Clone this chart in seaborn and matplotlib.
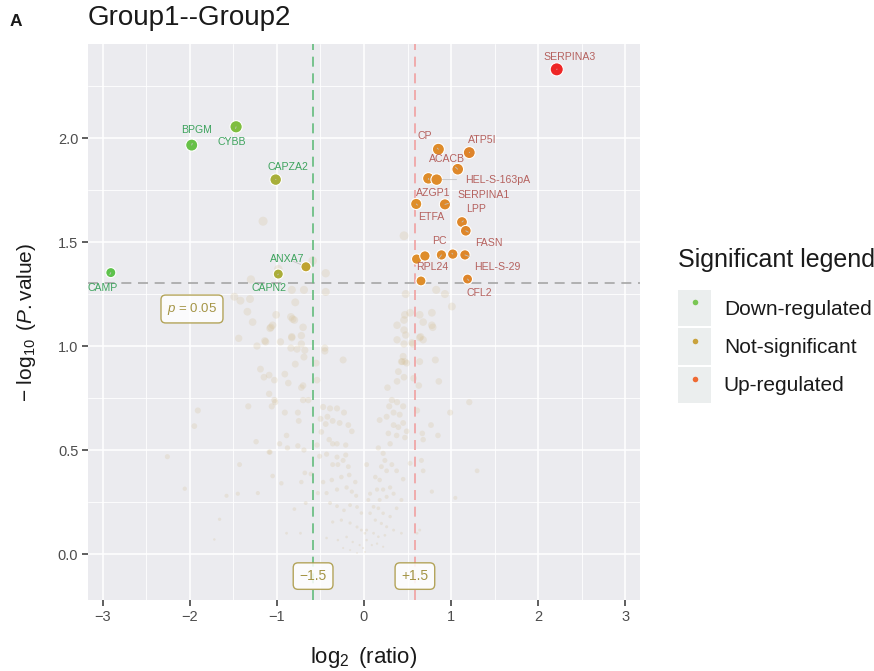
import numpy as np
import pandas as pd
import matplotlib
matplotlib.use('Agg')
import matplotlib.pyplot as plt
import seaborn as sns
from matplotlib.colors import LinearSegmentedColormap
from matplotlib.lines import Line2D
from matplotlib.patches import Rectangle
from matplotlib.ticker import MultipleLocator

# --- highlighted proteins (log2 ratio, -log10 p) ---
genes = ['SERPINA3', 'BPGM', 'CYBB', 'CAPZA2', 'CAMP', 'ANXA7', 'CAPN2',
         'CP', 'ATP5I', 'ACACB', 'AZGP1', 'HEL-S-163pA', 'ETFA', 'SERPINA1',
         'LPP', 'FASN', '', '', 'RPL24', 'PC', 'HEL-S-29', '', 'CFL2']
gene_x = [2.215, -1.98, -1.47, -1.015, -2.91, -0.667, -0.985,
          0.855, 1.21, 1.077, 0.74, 0.835, 0.60, 0.93,
          1.126, 1.17, 0.605, 0.70, 0.89, 1.02, 1.16, 0.655, 1.19]
gene_y = [2.33, 1.966, 2.054, 1.80, 1.353, 1.381, 1.346,
          1.946, 1.93, 1.85, 1.806, 1.80, 1.683, 1.681,
          1.596, 1.554, 1.418, 1.433, 1.438, 1.442, 1.438, 1.313, 1.322]

# --- background (non-highlighted) proteins ---
bg_x = [-0.79, -1.01, -0.84, -0.82, -1.28, -1.07, -1.05, -0.70, -0.83, -1.13,
        -0.96, -0.72, -1.23, -0.84, -0.77, -0.45, -0.69, -0.79, -0.55, -0.24,
        -1.19, -1.09, -1.15, -1.03, -0.91, -0.87, -0.72, -0.70, -0.54, -1.09,
        -1.03, -1.06, -0.70, -0.64, -0.47, -0.39, -0.31, -0.23, -0.91, -0.76,
        -0.42, -0.75, -0.50, -0.44, -0.36, -0.28, -0.18, -0.14, -1.24, -0.97,
        -0.88, -0.76, -0.69, -0.54, -0.49, -0.40, -0.36, -0.31, -0.21, -1.09,
        -0.51, -0.43, -0.31, -0.21, -0.30, -0.24, -0.18, -0.36, -1.05, -0.95,
        -0.72, -0.68, -0.61, -0.47, -0.37, -0.26, -0.17, -0.10, -1.22, -0.53,
        -0.43, -0.31, -0.20, -0.14, -0.09, -0.80, -0.67, -0.39, -0.31, -0.23,
        -0.16, -0.08, -0.03, -0.36, -0.26, -0.16, -0.08, -0.03, 0.01, -0.89,
        -0.73, -0.43, -0.30, -0.20, -0.13, -0.05, -0.01, 0.01, -0.24, -0.16,
        -0.08, -1.91, -1.95, -1.33, -1.02, -1.08, -0.89, -2.26, -1.43, -2.06,
        -1.58, -1.45, -1.66, -1.72, -1.16, -1.30, -1.49, -1.42, -1.31, -0.83,
        -0.69, -0.59, -0.44, -0.44, -1.34, -1.44, -1.14, -0.80, -1.08, -0.83,
        -0.72, -0.68, -0.45, -2.28, -0.985,
        0.47, 0.53, 0.64, 0.68, 0.78, 0.78, 0.38, 0.46, 0.48, 0.38,
        0.46, 0.56, 0.64, 0.68, 1.01, 0.43, 0.47, 0.49, 0.395, 0.46,
        0.38, 0.64, 0.82, 0.86, 0.27, 0.32, 0.38, 0.29, 0.34, 0.41,
        0.45, 0.61, 0.63, 0.57, 1.21, 0.99, 0.18, 0.26, 0.34, 0.395,
        0.45, 0.49, 0.28, 0.375, 0.30, 0.47, 0.67, 0.68, 0.77, 0.85,
        0.165, 0.22, 0.24, 0.20, 0.26, 0.32, 0.375, 0.45, 0.53, 0.66,
        0.68, 1.30, 0.78, 1.05, 0.03, 0.13, 0.18, 0.15, 0.22, 0.30,
        0.07, 0.18, 0.26, 0.34, 0.43, 0.375, 0.05, 0.11, 0.165, 0.22,
        0.30, 0.07, 0.13, 0.20, 0.26, 0.03, 0.11, 0.165, 0.24, 0.34,
        0.43, 0.03, 0.09, 0.15, 0.22, 0.61, 0.64, 0.46, 0.48, 0.83,
        0.93, 0.79, 0.46, 0.55, 0.65, 0.45, 0.44]
bg_y = [1.21, 1.15, 1.14, 1.13, 1.115, 1.09, 1.10, 1.09, 1.04, 1.02,
        1.02, 1.01, 1.00, 0.99, 0.985, 0.976, 0.947, 0.913, 0.918, 0.933,
        0.889, 0.86, 0.85, 0.836, 0.865, 0.822, 0.80, 0.81, 0.836, 0.77,
        0.74, 0.71, 0.74, 0.74, 0.707, 0.70, 0.70, 0.68, 0.68, 0.68,
        0.66, 0.64, 0.65, 0.625, 0.64, 0.63, 0.62, 0.59, 0.54, 0.53,
        0.51, 0.52, 0.50, 0.524, 0.587, 0.55, 0.53, 0.53, 0.524, 0.49,
        0.47, 0.48, 0.466, 0.476, 0.43, 0.45, 0.42, 0.43, 0.375, 0.34,
        0.346, 0.39, 0.385, 0.346, 0.356, 0.37, 0.38, 0.346, 0.293, 0.293,
        0.293, 0.31, 0.32, 0.30, 0.28, 0.216, 0.245, 0.245, 0.23, 0.21,
        0.235, 0.226, 0.197, 0.154, 0.163, 0.149, 0.13, 0.115, 0.10, 0.10,
        0.10, 0.077, 0.067, 0.082, 0.058, 0.043, 0.029, 0.01, 0.029, 0.019,
        0.005, 0.69, 0.615, 0.71, 0.73, 0.49, 0.57, 0.468, 0.43, 0.314,
        0.28, 0.29, 0.167, 0.07, 1.60, 1.32, 1.237, 1.218, 1.226, 1.27,
        1.27, 1.41, 1.35, 1.26, 1.165, 1.037, 1.025, 1.125, 1.085, 1.045,
        1.05, 0.98, 0.99, 1.18, 1.37,
        1.15, 1.16, 1.15, 1.115, 1.16, 1.10, 1.10, 1.077, 1.053, 1.03,
        1.01, 1.01, 1.04, 1.03, 1.19, 0.925, 0.925, 0.918, 0.877, 0.85,
        0.83, 0.925, 0.933, 0.83, 0.80, 0.74, 0.73, 0.71, 0.68, 0.67,
        0.71, 0.69, 0.81, 0.845, 0.73, 0.68, 0.644, 0.66, 0.62, 0.61,
        0.63, 0.59, 0.58, 0.57, 0.53, 0.56, 0.58, 0.55, 0.62, 0.57,
        0.51, 0.484, 0.45, 0.42, 0.40, 0.43, 0.40, 0.36, 0.436, 0.45,
        0.40, 0.40, 0.30, 0.27, 0.43, 0.37, 0.356, 0.31, 0.31, 0.32,
        0.29, 0.26, 0.275, 0.29, 0.26, 0.22, 0.26, 0.227, 0.22, 0.196,
        0.18, 0.196, 0.163, 0.147, 0.131, 0.115, 0.10, 0.083, 0.09, 0.115,
        0.10, 0.067, 0.043, 0.05, 0.035, 0.10, 0.115, 1.53, 1.25, 1.27,
        1.25, 1.09, 1.125, 1.016, 1.045, 0.95, 0.925]

legend_labels = ['Down-regulated', 'Not-significant', 'Up-regulated']
legend_colors = ['#79C653', '#C9A23C', '#EF6A33']

fc_cut = np.log2(1.5)
p_cut = -np.log10(0.05)

sns.set_theme(style='darkgrid')
plt.rcParams.update({
    'font.family': ['Liberation Sans', 'DejaVu Sans'],
    'mathtext.fontset': 'custom',
    'mathtext.rm': 'Liberation Sans',
    'mathtext.it': 'Liberation Sans:italic',
    'axes.unicode_minus': True,
})

fig = plt.figure(figsize=(8.74, 6.71), dpi=100)
ax = fig.add_axes([88 / 874, 1 - 600 / 671, 552 / 874, 556 / 671])
ax.set_facecolor('#EBEBEF')

hi = pd.DataFrame({'gene': genes, 'x': gene_x, 'y': gene_y})
bg = pd.DataFrame({'x': bg_x, 'y': bg_y})

grad = LinearSegmentedColormap.from_list('volc', [
    (0.00, '#5EC24C'), (0.16, '#7DBF3F'), (0.27, '#A9AE3A'),
    (0.36, '#C2A12E'), (0.64, '#DE8E2A'), (0.77, '#DE862A'), (1.00, '#EE2626')])

sns.scatterplot(data=bg, x='x', y='y', color='#D6C29A', alpha=0.26,
                size='y', sizes=(1.5, 62), size_norm=(0, 2.35),
                linewidth=0, legend=False, ax=ax, zorder=2)

# reference lines
ax.axhline(p_cut, color='#A6A6A6', lw=1.2, ls=(0, (6, 4)), zorder=3)
ax.axvline(-fc_cut, color='#63BB7C', lw=1.2, ls=(0, (6, 4)), zorder=3)
ax.axvline(fc_cut, color='#F0A0A0', lw=1.2, ls=(0, (6, 4)), zorder=3)

sns.scatterplot(data=hi, x='x', y='y', hue='x', palette=grad,
                hue_norm=(-2.2, 2.2), edgecolor='white', linewidth=0.8,
                size='y', sizes=(2, 90), size_norm=(0, 2.35),
                legend=False, ax=ax, zorder=5)

# gene labels (ggrepel-like placement)
label_pos = {
    'SERPINA3': (2.36, 2.39), 'BPGM': (-1.93, 2.04), 'CYBB': (-1.52, 1.98),
    'CAPZA2': (-0.87, 1.86), 'CAMP': (-3.0, 1.28), 'ANXA7': (-0.885, 1.42),
    'CAPN2': (-1.09, 1.28), 'CP': (0.70, 2.01), 'ATP5I': (1.36, 1.99),
    'ACACB': (0.95, 1.90), 'HEL-S-163pA': (1.54, 1.80), 'AZGP1': (0.80, 1.735),
    'SERPINA1': (1.37, 1.726), 'ETFA': (0.77, 1.62), 'LPP': (1.29, 1.66),
    'FASN': (1.43, 1.495), 'PC': (0.87, 1.505), 'RPL24': (0.79, 1.38),
    'HEL-S-29': (1.53, 1.38), 'CFL2': (1.33, 1.255),
}
for g, px, py in zip(genes, gene_x, gene_y):
    if not g:
        continue
    tc = '#3DA35D' if px < 0 else '#B5615E'
    ax.annotate(g, xy=(px, py), xytext=label_pos[g], ha='center', va='center',
                fontsize=7.6, color=tc, zorder=6,
                arrowprops=dict(arrowstyle='-', color='#C4C4C4', lw=0.6,
                                shrinkA=4, shrinkB=4))

box = dict(boxstyle='round,pad=0.45,rounding_size=0.35', fc='white',
           ec='#A8963F', lw=1.0, alpha=0.85)
ax.text(-1.977, 1.178, r'$\mathit{p}$ = 0.05', ha='center', va='center',
        fontsize=9.5, color='#A49445', bbox=box, zorder=7)
ax.text(-fc_cut, -0.106, '\u22121.5', ha='center', va='center',
        fontsize=10, color='#A49445', bbox=box, zorder=7)
ax.text(fc_cut, -0.106, '+1.5', ha='center', va='center',
        fontsize=10, color='#A49445', bbox=box, zorder=7)

ax.set_xlim(-3.172, 3.172)
ax.set_ylim(-0.221, 2.452)
ax.set_xticks([-3, -2, -1, 0, 1, 2, 3])
ax.set_yticks([0.0, 0.5, 1.0, 1.5, 2.0])
ax.set_yticklabels(['0.0', '0.5', '1.0', '1.5', '2.0'])
ax.xaxis.set_minor_locator(MultipleLocator(0.5))
ax.yaxis.set_minor_locator(MultipleLocator(0.25))
ax.grid(which='major', color='white', lw=1.1)
ax.grid(which='minor', color='white', lw=0.6)
ax.tick_params(which='major', length=4, width=1.1, color='#333333',
               labelcolor='#4D4D4D', labelsize=10.5, pad=3,
               bottom=True, left=True)
ax.tick_params(which='minor', length=0)
for s in ax.spines.values():
    s.set_visible(False)

ax.set_xlabel(r'$\log_2\ \mathrm{(ratio)}$', fontsize=16, color='#1A1A1A', labelpad=15)
ax.set_ylabel(r'$-\ \log_{10}\ (\mathit{P}.\mathrm{value})$', fontsize=15,
              color='#1A1A1A', labelpad=14)

fig.text(88 / 874, 1 - 18 / 671, 'Group1--Group2', fontsize=20,
         color='#1A1A1A', ha='left', va='center')
fig.text(10 / 874, 1 - 21 / 671, 'A', fontsize=12.5, fontweight='bold',
         color='#1A1A1A', ha='left', va='center')

# legend
fig.text(678 / 874, 1 - 260 / 671, 'Significant legend', fontsize=18,
         color='#1A1A1A', ha='left', va='center')
handles = [(Rectangle((0, 0), 1, 1, fc='#EBEEEE', ec='none'),
            Line2D([], [], marker='o', ls='', ms=4, color=c, mec='none'))
           for c in legend_colors]
fig.legend(handles, legend_labels, loc='upper left',
           bbox_to_anchor=(678 / 874, 1 - 290 / 671), frameon=False,
           fontsize=15, handlelength=1.6, handleheight=2.3,
           handletextpad=0.6, labelspacing=0.1, borderpad=0,
           borderaxespad=0, labelcolor='#1A1A1A')

fig.savefig('out.png', dpi=100, facecolor='white')
